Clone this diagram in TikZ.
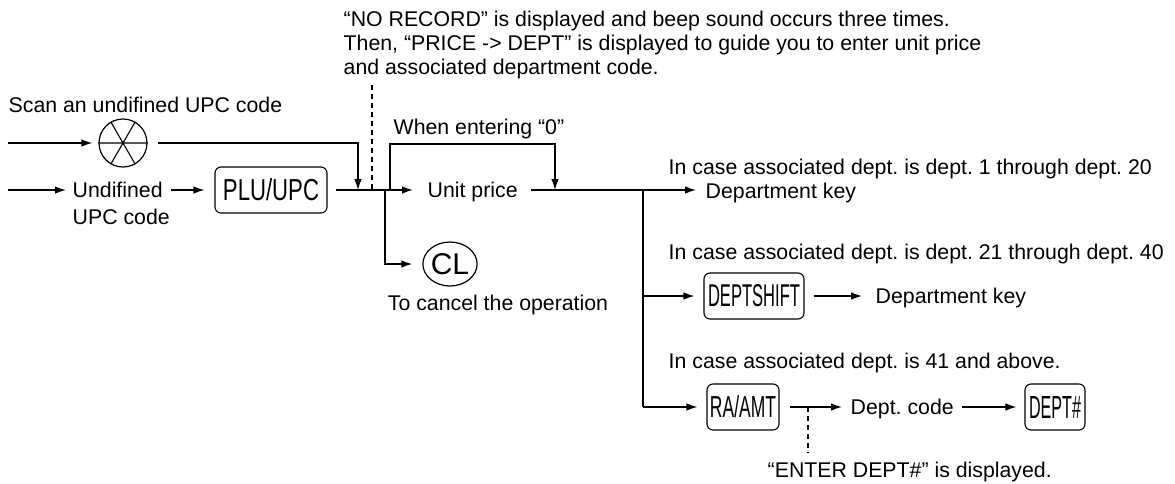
\documentclass[tikz,border=0pt]{standalone}
\usepackage{fontspec}
\setmainfont{Liberation Sans}
\usetikzlibrary{arrows.meta,shapes.geometric}
\frenchspacing
\begin{document}
\begin{tikzpicture}[x=0.5pt,y=-0.5pt,
  font=\fontsize{10.65}{12}\selectfont,
  line width=0.7pt,
  >={Latex[length=5.5pt,width=3.8pt]},
  lbl/.style={inner sep=0pt,text height=7.6pt,text depth=0pt,anchor=west},
  keybox/.style={draw,rounded corners=3pt,line width=0.55pt,minimum height=23pt,inner sep=0pt},
  dsh/.style={dashed,dash pattern=on 2.5pt off 2pt,line width=0.55pt}]
\useasboundingbox[fill=white] (0,0) rectangle (1175,483);

% top remark
\node[lbl] (top1) at (343,19) {“NO RECORD” is displayed and beep sound occurs three times.};
\node[lbl] (top2) at (343,43) {Then, “PRICE -> DEPT” is displayed to guide you to enter unit price};
\node[lbl] (top3) at (343,67) {and associated department code.};

% scan row
\node[lbl] (scantxt) at (8,105) {Scan an undifined UPC code};
\coordinate (inA) at (8,143);
\node[draw,circle,minimum size=24pt,inner sep=0pt,line width=0.6pt] (scan) at (123,143) {};
\draw[line width=0.55pt] (scan.0) -- (scan.180) (scan.60) -- (scan.240) (scan.120) -- (scan.300);

% undefined row
\coordinate (inB) at (8,190);
\node[lbl] (und1) at (72,190) {Undifined};
\node[lbl] (und2) at (72,217) {UPC code};
\node[keybox,minimum width=56pt] (plu) at (271,190) {\resizebox{48pt}{11pt}{PLU/UPC}};
\node[lbl] (unit) at (427,190) {Unit price};
\node[lbl] (wh) at (393,127) {When entering “0”};

\coordinate (j1) at (358,190);
\coordinate (c1) at (385,190);
\coordinate (l1) at (390,190);
\coordinate (l2) at (555,190);
\coordinate (b0) at (643,190);
\coordinate (b1) at (643,296);
\coordinate (b2) at (643,407);
\coordinate (dtop) at (372,85);
\coordinate (dbot) at (372,190);

\draw[->,shorten >=3pt] (inA) -- (scan);
\draw[->,shorten <=5pt] (scan.east) -- (scan.east -| j1) -- (j1);
\draw[->,shorten >=3pt] (inB) -- (und1.west);
\draw[->,shorten <=4pt,shorten >=5pt] (und1.east) -- (plu.west);
\draw[->,shorten <=4pt,shorten >=7pt] (plu.east) -- (unit.west);
\draw[dsh] (dtop) -- (dbot);
\draw[->] (l1) -- ++(0,-46) -| (l2);

% cancel
\node[draw,ellipse,minimum width=26.5pt,minimum height=22pt,inner sep=0pt,line width=0.6pt,font=\fontsize{15}{15}\selectfont] (cl) at (450,264) {CL};
\node[lbl,anchor=center] (cltxt) at (498,303) {To cancel the operation};
\draw[->,shorten >=5pt] (c1) |- (cl.west);

% right side
\node[lbl] (dk1) at (705,191) {Department key};
\node[lbl] (t1) at (668,167) {In case associated dept. is dept. 1 through dept. 20};
\draw[->,shorten <=6.5pt,shorten >=4.5pt] (unit.east) -- (dk1.west |- unit.east);
\draw (b0) -- (b2);

\node[lbl] (t2) at (668,252) {In case associated dept. is dept. 21 through dept. 40};
\node[keybox,minimum width=50pt] (ds) at (754,296) {\resizebox{46pt}{11pt}{DEPTSHIFT}};
\node[lbl] (dk2) at (875,296) {Department key};
\draw[->,shorten >=4.5pt] (b1) -- (ds.west);
\draw[->,shorten <=4.5pt,shorten >=6.5pt] (ds.east) -- (dk2.west);

\node[lbl] (t3) at (668,361) {In case associated dept. is 41 and above.};
\node[keybox,minimum width=36pt] (ra) at (743,407) {\resizebox{33pt}{11pt}{RA/AMT}};
\node[lbl] (dc) at (850,407) {Dept. code};
\node[keybox,minimum width=30pt] (dp) at (1055,407) {\resizebox{26pt}{11pt}{DEPT\#}};
\node[lbl] (ent) at (767,470) {“ENTER DEPT\#” is displayed.};
\coordinate (e1) at (808,407);
\coordinate (e2) at (808,453);
\draw[->,shorten >=4.5pt] (b2) -- (ra.west);
\draw[->,shorten <=5pt,shorten >=4pt] (ra.east) -- (dc.west);
\draw[->,shorten <=4pt,shorten >=4pt] (dc.east) -- (dp.west);
\draw[dsh] (e1) -- (e2);
\end{tikzpicture}
\end{document}
